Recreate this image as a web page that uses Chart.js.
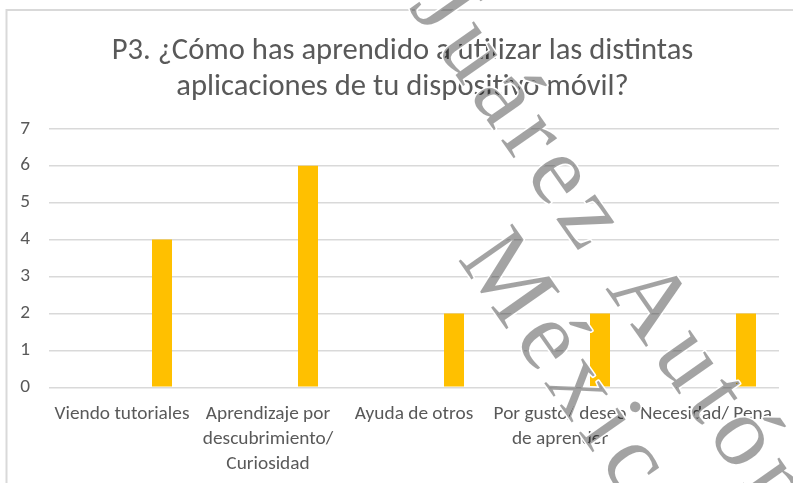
<!DOCTYPE html>
<html><head><meta charset="utf-8">
<script src="https://cdn.jsdelivr.net/npm/chart.js@4/dist/chart.umd.min.js"></script>
<style>html,body{margin:0;padding:0;background:#fff;overflow:hidden}#wrap{width:793px;height:483px;position:relative}</style>
</head><body><div id="wrap"><canvas id="c" width="793" height="483"></canvas></div>
<script>
const titleLines = ["P3. ¿Cómo has aprendido a utilizar las distintas", "aplicaciones de tu dispositivo móvil?"];
const categories = [["Viendo tutoriales"], ["Aprendizaje por", "descubrimiento/", "Curiosidad"], ["Ayuda de otros"], ["Por gusto/ deseo", "de aprender"], ["Necesidad/ Pena"]];
const respuestas = [4, 6, 2, 2, 2];
const emptySeries = [null, null, null, null, null];
const yTicks = [0, 1, 2, 3, 4, 5, 6, 7];
const watermarkLines = ["Juárez Autónoma de Tabasco", "México"];

const FAM = 'Carlito, Lato, "Open Sans", sans-serif';
function fitSize(text, family, targetW) {
  const c = document.createElement('canvas').getContext('2d');
  c.font = '100px ' + family;
  return 100 * targetW / c.measureText(text).width;
}
const titleSize = fitSize(titleLines[0], FAM, 582);
const tickSize = fitSize(categories[0][0], FAM, 135);

const framePlugin = {
  id: 'frame',
  afterLayout(chart) {
    if (chart.titleBlock) chart.titleBlock.left += 26;
  },
  beforeDraw(chart) {
    const ctx = chart.ctx;
    ctx.save();
    ctx.fillStyle = '#fff';
    ctx.fillRect(0, 0, chart.width, chart.height);
    ctx.strokeStyle = '#d9d9d9';
    ctx.lineWidth = 2;
    ctx.strokeRect(6.5, 10, 1000, 1000);
    ctx.restore();
  }
};

const watermarkPlugin = {
  id: 'watermark',
  afterDraw(chart) {
    const ctx = chart.ctx;
    ctx.save();
    ctx.rotate(55 * Math.PI / 180);
    ctx.font = '100px "Liberation Serif", "DejaVu Serif", serif';
    ctx.textBaseline = 'alphabetic';
    ctx.lineJoin = 'round';
    const starts = [[240, -330], [474, -226]];
    watermarkLines.forEach((line, i) => {
      let x = starts[i][0];
      const y = starts[i][1];
      for (const ch of line) {
        ctx.strokeStyle = '#fff';
        ctx.lineWidth = 3;
        ctx.strokeText(ch, x, y);
        ctx.fillStyle = 'rgba(0,0,0,0.36)';
        ctx.fillText(ch, x, y);
        x += ctx.measureText(ch).width + 9;
      }
    });
    ctx.restore();
  }
};

const mkEmpty = (n) => ({ label: 'Serie ' + n, data: emptySeries, backgroundColor: 'rgba(0,0,0,0)', borderWidth: 0 });

new Chart(document.getElementById('c'), {
  type: 'bar',
  data: {
    labels: categories,
    datasets: [mkEmpty(1), mkEmpty(2), mkEmpty(3), mkEmpty(4), {
      label: 'Respuestas',
      data: respuestas,
      backgroundColor: '#FFC000',
      borderWidth: 0
    }]
  },
  options: {
    responsive: false,
    animation: false,
    devicePixelRatio: 1,
    categoryPercentage: 0.685,
    barPercentage: 1,
    layout: { padding: { top: 0, left: 0, right: 14, bottom: 0 } },
    plugins: {
      legend: { display: false },
      tooltip: { enabled: false },
      title: {
        display: true,
        text: titleLines,
        color: '#595959',
        font: { family: FAM, size: titleSize, weight: 'normal', lineHeight: '36px' },
        padding: { top: 33.5, bottom: 23.2 }
      }
    },
    scales: {
      x: {
        grid: { display: false, drawTicks: false },
        border: { display: false },
        ticks: {
          color: '#595959',
          font: { family: FAM, size: tickSize, lineHeight: '25px' },
          padding: 14.5,
          maxRotation: 0,
          autoSkip: false
        },
        afterFit(scale) { scale.height = 95.7; }
      },
      y: {
        min: yTicks[0],
        max: yTicks[yTicks.length - 1],
        afterBuildTicks(scale) { scale.ticks = yTicks.map(v => ({ value: v })); },
        grid: { color: '#d9d9d9', lineWidth: 1.5, drawTicks: false },
        border: { display: false },
        ticks: {
          color: '#595959',
          font: { family: FAM, size: tickSize },
          padding: 19
        },
        afterFit(scale) { scale.width = 49; }
      }
    }
  },
  plugins: [framePlugin, watermarkPlugin]
});
</script>
</body></html>
